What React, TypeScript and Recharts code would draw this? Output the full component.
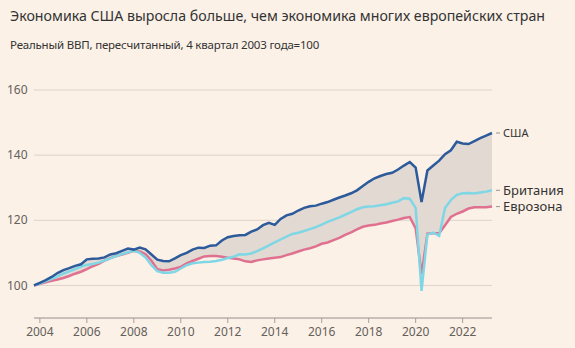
import {
  ComposedChart,
  Area,
  Line,
  XAxis,
  YAxis,
  CartesianGrid,
  LabelList,
} from "recharts";

// квартальные точки: 4 кв. 2003 ... 2 кв. 2023
const quarters = Array.from({ length: 79 }, (_, i) => 2003.75 + i * 0.25);

const usa = [
  100, 100.8, 101.6, 102.6, 103.8, 104.7, 105.3, 106.0, 106.5, 108.0, 108.2,
  108.3, 108.6, 109.5, 109.9, 110.6, 111.3, 111.0, 111.6, 111.1, 109.5, 107.9,
  107.5, 107.4, 108.3, 109.3, 110.0, 111.0, 111.6, 111.5, 112.2, 112.3, 113.8,
  114.8, 115.2, 115.4, 115.5, 116.5, 117.2, 118.5, 119.2, 118.6, 120.4, 121.5,
  122.0, 123.0, 123.8, 124.3, 124.5, 125.1, 125.6, 126.3, 127.0, 127.6, 128.3,
  129.2, 130.5, 131.8, 132.9, 133.6, 134.2, 134.6, 135.6, 136.8, 137.9, 136.2,
  125.6, 135.3, 136.8, 138.3, 140.3, 141.5, 144.1, 143.6, 143.4, 144.3, 145.2,
  146.0, 146.8,
];

const britain = [
  100, 100.6, 101.3, 102.0, 102.8, 103.6, 104.3, 105.0, 105.8, 106.3, 106.6,
  107.0, 107.6, 108.3, 109.0, 109.6, 110.2, 110.6, 110.0, 108.6, 106.2, 104.4,
  103.9, 103.9, 104.2, 105.2, 106.2, 106.8, 107.0, 107.2, 107.3, 107.5, 107.9,
  108.4, 108.8, 109.6, 109.5, 109.8, 110.5, 111.4, 112.3, 113.2, 114.1, 115.0,
  115.8, 116.2, 116.7, 117.3, 117.9, 118.7, 119.5, 120.2, 120.9, 121.7, 122.5,
  123.4, 124.0, 124.2, 124.3, 124.6, 124.9, 125.4, 125.8, 126.8, 126.6, 123.8,
  98.3, 115.6, 116.2, 115.2, 123.8, 126.2, 127.8, 128.3, 128.4, 128.2, 128.5,
  128.8, 129.2,
];

const eurozone = [
  100, 100.5, 101.0, 101.4, 101.8, 102.3, 102.9, 103.6, 104.2, 105.0, 105.9,
  106.6, 107.6, 108.4, 109.0, 109.5, 110.0, 110.6, 110.4, 109.6, 107.6, 105.0,
  104.6, 104.8, 105.2, 105.7, 106.8, 107.5, 108.2, 108.9, 109.0, 109.0, 108.8,
  108.5, 108.3, 108.0, 107.4, 107.2, 107.7, 108.0, 108.3, 108.5, 108.7, 109.3,
  109.8, 110.4, 111.0, 111.4, 112.0, 112.8, 113.2, 113.9, 114.6, 115.5, 116.3,
  117.2, 118.0, 118.4, 118.6, 119.0, 119.3, 119.8, 120.2, 120.7, 121.0, 117.5,
  103.4, 115.9, 116.0, 116.0, 118.5, 121.0, 122.0, 122.7, 123.6, 124.0, 124.0,
  124.0, 124.2,
];

const yearTicks = [2004, 2006, 2008, 2010, 2012, 2014, 2016, 2018, 2020, 2022];
const valueTicks = [100, 120, 140, 160];

const data = quarters.map((t, i) => ({
  t,
  usa: usa[i],
  britain: britain[i],
  eurozone: eurozone[i],
  gap: [eurozone[i], usa[i]],
}));

const BG = "#fbf1e7";
const FONT = "'Noto Sans', sans-serif";

function EndLabel(props: any) {
  const { x, y, index, value, label, size } = props;
  if (index !== data.length - 1) return null;
  return (
    <g>
      <line x1={x + 4} x2={x + 8} y1={y} y2={y} stroke="#9a948f" strokeWidth={1} />
      <text
        x={x + 11}
        y={y}
        dy="0.35em"
        fontSize={size}
        fill="#333"
        fontFamily={FONT}
      >
        {label ?? value}
      </text>
    </g>
  );
}

function YTick(props: any) {
  const { y, payload } = props;
  return (
    <text x={7} y={y} dy="0.35em" fontSize={12} fill="#66605b" fontFamily={FONT}>
      {payload.value}
    </text>
  );
}

export default function App() {
  return (
    <div
      style={{
        position: "absolute",
        left: 0,
        top: 0,
        width: 575,
        height: 348,
        background: BG,
        fontFamily: FONT,
        overflow: "hidden",
      }}
    >
      <div
        style={{
          position: "absolute",
          left: 10,
          top: 6,
          fontSize: 14.2,
          color: "#333",
          whiteSpace: "nowrap",
        }}
      >
        Экономика США выросла больше, чем экономика многих европейских стран
      </div>
      <div
        style={{
          position: "absolute",
          left: 10,
          top: 37,
          fontSize: 11.5,
          letterSpacing: -0.2,
          color: "#333",
          whiteSpace: "nowrap",
        }}
      >
        Реальный ВВП, пересчитанный, 4 квартал 2003 года=100
      </div>
      <div style={{ position: "absolute", left: 0, top: 0 }}>
        <ComposedChart
          width={575}
          height={348}
          data={data}
          margin={{ top: 90, right: 83, bottom: 0, left: 0 }}
        >
          <CartesianGrid vertical={false} stroke="#ddd3ca" />
          <XAxis
            dataKey="t"
            type="number"
            domain={[2003.75, 2023.25]}
            ticks={yearTicks}
            height={30}
            stroke="#a59f99"
            tickSize={5}
            tick={{ fontSize: 12, fill: "#66605b", fontFamily: FONT }}
            tickMargin={4}
          />
          <YAxis
            type="number"
            domain={[90, 160]}
            ticks={valueTicks}
            width={34}
            axisLine={false}
            tickLine={false}
            tick={<YTick />}
          />
          <Area
            dataKey="gap"
            stroke="none"
            fill="#e1d9d2"
            fillOpacity={1}
            isAnimationActive={false}
          />
          <Line
            dataKey="eurozone"
            stroke="#e0708f"
            strokeWidth={2.5}
            dot={false}
            isAnimationActive={false}
          >
            <LabelList
              dataKey="eurozone"
              content={(p: any) => <EndLabel {...p} label="Еврозона" size={13} />}
            />
          </Line>
          <Line
            dataKey="britain"
            stroke="#7fd7e6"
            strokeWidth={2.5}
            dot={false}
            isAnimationActive={false}
          >
            <LabelList
              dataKey="britain"
              content={(p: any) => <EndLabel {...p} label="Британия" size={13} />}
            />
          </Line>
          <Line
            dataKey="usa"
            stroke="#2c5a9b"
            strokeWidth={2.5}
            dot={false}
            isAnimationActive={false}
          >
            <LabelList
              dataKey="usa"
              content={(p: any) => <EndLabel {...p} label="США" size={11} />}
            />
          </Line>
        </ComposedChart>
      </div>
    </div>
  );
}
